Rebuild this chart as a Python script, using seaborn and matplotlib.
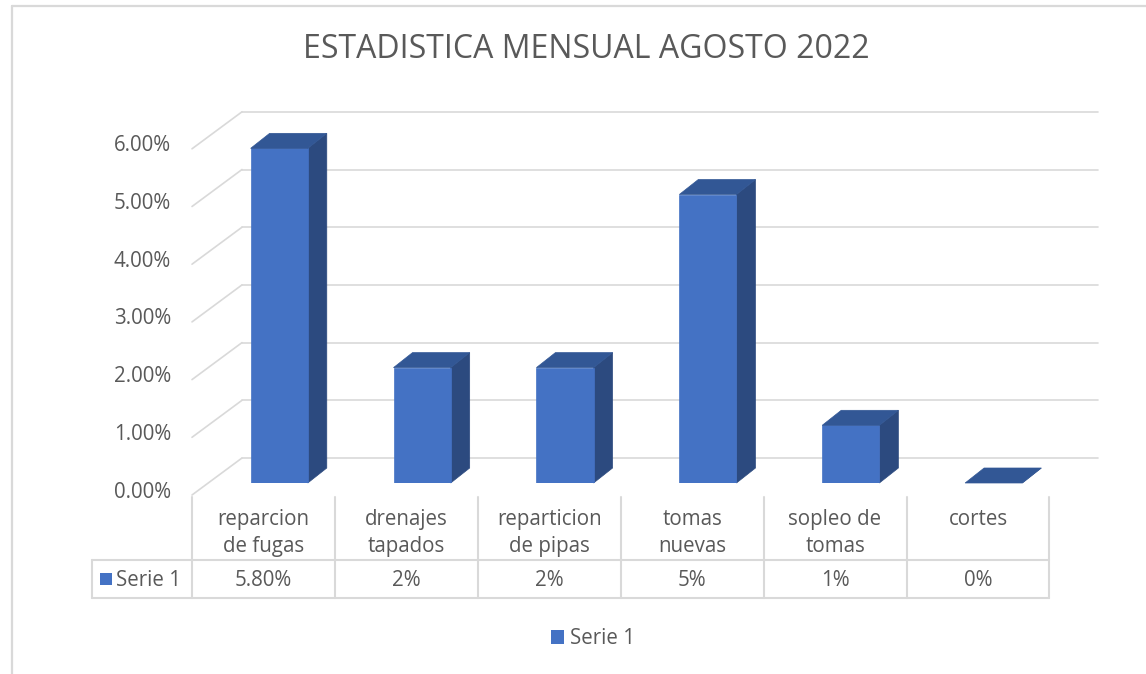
import textwrap
import matplotlib
matplotlib.use("Agg")
import matplotlib.pyplot as plt
from matplotlib.patches import Polygon, Patch
from matplotlib.lines import Line2D
import seaborn as sns

# ---------------- data ----------------
categories = ["reparcion de fugas", "drenajes tapados", "reparticion de pipas",
              "tomas nuevas", "sopleo de tomas", "cortes"]
values = [0.058, 0.02, 0.02, 0.05, 0.01, 0.0]
table_labels = ["5.80%", "2%", "2%", "5%", "1%", "0%"]
yticks = [0.0, 0.01, 0.02, 0.03, 0.04, 0.05, 0.06]
series_name = "Serie 1"
title = "ESTADISTICA MENSUAL AGOSTO 2022"

# ---------------- style ----------------
FRONT = "#4472C4"
SIDE = "#2C4A7F"
TOP = "#325795"
GRID = "#D9D9D9"
TXT = "#595959"
FONT = "Open Sans"
FS = 14.8

sns.set_theme(style="white")
plt.rcParams["font.family"] = [FONT, "DejaVu Sans"]

W, H = 1146, 674
fig = plt.figure(figsize=(W / 100, H / 100), dpi=100)
fig.patch.set_facecolor("white")

# axes = front plane of the bars
ax_l, ax_r = 207.75, 1065.15
ax_b, ax_t = 483.0, 136.8
ax = fig.add_axes([ax_l / W, 1 - ax_b / H, (ax_r - ax_l) / W, (ax_b - ax_t) / H])
ax.set_facecolor("none")

n = len(categories)
xmin, xmax = -0.5, n - 0.5
ymin, ymax = 0.0, 0.06
px2x = (xmax - xmin) / (ax_r - ax_l)
px2y = (ymax - ymin) / (ax_b - ax_t)

sns.barplot(x=categories, y=values, color=FRONT, saturation=1, width=0.4,
            ax=ax, zorder=3, edgecolor=FRONT, linewidth=0.5)
ax.set_xlim(xmin, xmax)
ax.set_ylim(ymin, ymax)
ax.axis("off")

# depth offsets
bdx, bdy = 19 * px2x, 15 * px2y          # bar depth
wbx, wby = 34.25 * px2x, 25 * px2y       # back wall offset
wfx, wfy = -15.75 * px2x, -12 * px2y     # front of side wall

# gridlines on back and side walls
for v in yticks:
    ax.add_line(Line2D([xmin + wbx, xmax + wbx - 1.4 * px2x], [v + wby, v + wby],
                       color=GRID, lw=1.2, zorder=1, clip_on=False))
    ax.add_line(Line2D([xmin + wfx, xmin + wbx], [v + wfy, v + wby],
                       color=GRID, lw=1.2, zorder=1, clip_on=False))
    ax.text(xmin + wfx - 21 * px2x, v + wfy + 3 * px2y, f"{v:.2%}",
            ha="right", va="center", fontsize=FS, color=TXT, clip_on=False)

# 3D faces of bars
for p in ax.patches:
    x0 = p.get_x()
    w = p.get_width()
    h = p.get_height()
    x1 = x0 + w
    side = Polygon([(x1, 0), (x1 + bdx, bdy), (x1 + bdx, h + bdy), (x1, h)],
                   closed=True, facecolor=SIDE, edgecolor=SIDE, lw=0.5,
                   zorder=2.9, clip_on=False)
    top = Polygon([(x0, h), (x0 + bdx, h + bdy), (x1 + bdx, h + bdy), (x1, h)],
                  closed=True, facecolor=TOP, edgecolor=TOP, lw=0.5,
                  zorder=3.1, clip_on=False)
    ax.add_patch(side)
    ax.add_patch(top)

# data table
def py2y(py):
    return (ax_b - py) * px2y

def px2dx(px):
    return xmin + (px - ax_l) * px2x

col_left = xmin + wfx
y_top_cols = py2y(497)
y_row_top = py2y(560)
y_row_bot = py2y(598)
x_tab_left = px2dx(92)
x_tab_right = col_left + n

for i in range(n + 1):
    xb = col_left + i
    ax.add_line(Line2D([xb, xb], [y_top_cols, y_row_bot], color=GRID, lw=1.5,
                       zorder=1, clip_on=False))
for yy in (y_row_top, y_row_bot):
    ax.add_line(Line2D([x_tab_left, x_tab_right], [yy, yy], color=GRID, lw=1.5,
                       zorder=1, clip_on=False))
ax.add_line(Line2D([x_tab_left, x_tab_left], [y_row_top, y_row_bot], color=GRID,
                   lw=1.5, zorder=1, clip_on=False))

for i, (cat, lab) in enumerate(zip(categories, table_labels)):
    xc = col_left + i + 0.5
    ax.text(xc, py2y(509), textwrap.fill(cat, 11), ha="center", va="top",
            fontsize=FS, color=TXT, linespacing=1.38, clip_on=False)
    ax.text(xc, py2y(580), lab, ha="center", va="center", fontsize=FS,
            color=TXT, clip_on=False)

# series cell in table
ax.add_patch(Polygon([(px2dx(100), py2y(585)), (px2dx(112), py2y(585)),
                      (px2dx(112), py2y(573)), (px2dx(100), py2y(573))],
                     closed=True, facecolor=FRONT, edgecolor="none", clip_on=False))
ax.text(px2dx(116), py2y(580), series_name, ha="left", va="center", fontsize=FS,
        color=TXT, clip_on=False)

# legend
fig.legend(handles=[Patch(facecolor=FRONT, edgecolor="none", label=series_name)],
           loc="center", bbox_to_anchor=(593 / W, 1 - 639 / H), frameon=False,
           fontsize=FS, handlelength=0.65, handleheight=0.65, handletextpad=0.3,
           labelcolor=TXT)

# title
fig.text(586 / W, 1 - 49 / H, title, ha="center", va="center", fontsize=23,
         color=TXT, fontweight="normal")

# chart border
fig.add_artist(Line2D([12 / W, 12 / W], [0, 1 - 6 / H], transform=fig.transFigure,
                      color=GRID, lw=1.6))
fig.add_artist(Line2D([12 / W, 1], [1 - 6 / H, 1 - 6 / H], transform=fig.transFigure,
                      color=GRID, lw=1.6))

fig.savefig("out.png", dpi=100, facecolor="white")
